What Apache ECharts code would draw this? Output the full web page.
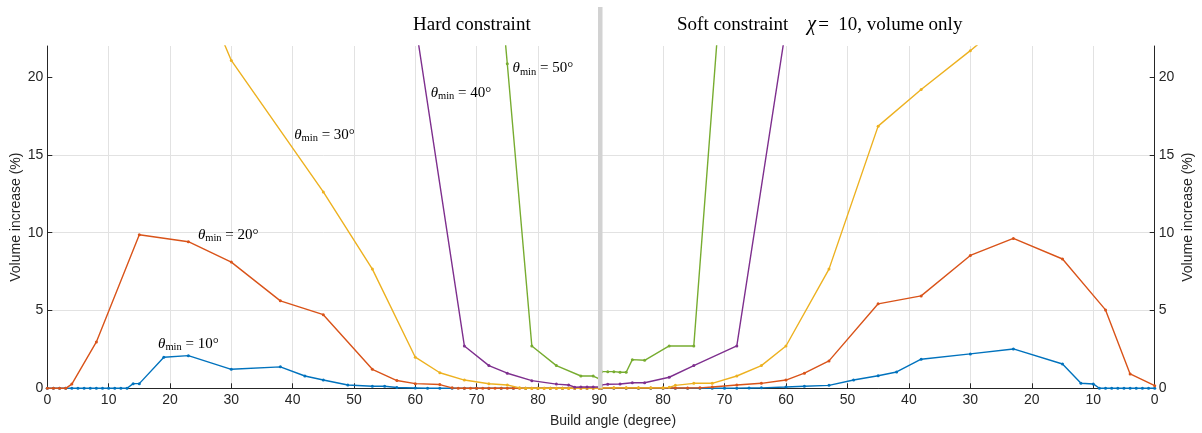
<!DOCTYPE html>
<html><head><meta charset="utf-8">
<script src="https://cdn.jsdelivr.net/npm/echarts@6/dist/echarts.min.js"></script>
<style>html,body{margin:0;padding:0;background:#fff}#c{width:1202px;height:433px}</style>
</head><body><div id="c"></div>
<script>
// ---------- data ----------
const xAxisTitle = 'Build angle (degree)';
const yAxisTitle = 'Volume increase (%)';
const yTickValues = [0, 5, 10, 15, 20];
const thetaNames = ['10°', '20°', '30°', '40°', '50°'];
const seriesColors = ['#0072BD', '#D95319', '#EDB120', '#7E2F8E', '#77AC30'];

// Hard constraint (left panel)
const hard10X = [0,1,2,3,4,5,6,7,8,9,10,11,12,13,14,15,19,23,30,38,42,45,49,53,55,57,60,62,64,66,68,70,72,74,76,78,80,82,84,86,88,90];
const hard10Y = [0,0,0,0,0,0,0,0,0,0,0,0,0,0,0.3,0.3,2.0,2.1,1.22,1.38,0.79,0.53,0.21,0.13,0.13,0.05,0.02,0,0,0,0,0,0,0,0,0,0,0,0,0,0,0];
const hard20X = [0,1,2,3,4,8,15,23,30,38,45,53,57,60,64,66,67,68,69,70,71,72,73,74,75,76,77,78,79,80,81,82,83,84,85,86,87,88,89,90];
const hard20Y = [0,0,0,0,0.27,2.98,9.87,9.42,8.11,5.62,4.73,1.22,0.5,0.3,0.24,0.03,0,0,0,0,0,0,0,0,0,0,0,0,0,0,0,0,0,0,0,0,0,0,0,0];
const hard30X = [23,30,45,53,60,64,68,72,75,77,78,79,80,81,82,83,84,85,86,87,88,89,90];
const hard30Y = [27.6,21.07,12.62,7.66,2.0,1.0,0.53,0.29,0.21,0.03,0,0,0,0,0,0,0,0,0,0,0,0,0];
const hard40X = [60,68,72,75,79,83,85,86,87,88,89,90];
const hard40Y = [23.5,2.72,1.46,0.97,0.49,0.27,0.21,0.07,0.08,0.08,0.08,0.08];
const hard50X = [72,75,79,83,87,89,90];
const hard50Y = [34,20.86,2.72,1.46,0.79,0.79,0.6];

// Soft constraint, chi = 10 (right panel)
const soft10X = [0,1,2,3,4,5,6,7,8,9,10,12,15,23,30,38,42,45,49,53,57,60,64,66,68,70,72,74,76,78,80,82,84,86,88,90];
const soft10Y = [0,0,0,0,0,0,0,0,0,0,0.28,0.32,1.56,2.53,2.21,1.87,1.05,0.81,0.53,0.19,0.13,0.08,0.03,0.02,0.01,0,0,0,0,0,0,0,0,0,0,0];
const soft20X = [0,4,8,15,23,30,38,45,53,57,60,64,68,72,74,76,78,80,82,84,86,88,90];
const soft20Y = [0.17,0.92,5.04,8.31,9.63,8.54,5.94,5.43,1.76,0.97,0.53,0.32,0.21,0.08,0.03,0.02,0.02,0.02,0.02,0.02,0.02,0.02,0.02];
const soft30X = [23,30,38,45,53,60,64,68,72,75,78,79,80,82,84,86,88,90];
const soft30Y = [24,21.7,19.2,16.85,7.66,2.72,1.46,0.79,0.32,0.32,0.19,0.06,0.03,0.03,0.03,0.03,0.03,0.03];
const soft40X = [60,68,75,79,83,85,87,89,90];
const soft40Y = [23.2,2.72,1.46,0.71,0.36,0.36,0.28,0.26,0.22];
const soft50X = [71,75,79,83,85,86,87,88,89,90];
const soft50Y = [23.5,2.72,2.72,1.8,1.84,1.03,1.03,1.07,1.07,1.07];

// label anchors (data units, left panel)
const thetaLabelAt = [[23, 2.85], [29.5, 9.84], [45.2, 16.3], [67.45, 19.0], [80.8, 20.55]];

// ---------- chart ----------
const chart = echarts.init(document.getElementById('c'), null, {renderer: 'canvas'});
const AX = '#262626', GRIDC = '#e2e2e2';
const SANS = '"Liberation Sans", Arial, Helvetica, sans-serif';
const SERIF = '"Liberation Serif", "Times New Roman", serif';

const annRich = {
  t: {fontFamily: SERIF, fontStyle: 'italic', fontSize: 15, color: '#000', lineHeight: 18},
  s: {fontFamily: SERIF, fontSize: 10.5, color: '#000', verticalAlign: 'bottom', lineHeight: 13},
  r: {fontFamily: SERIF, fontSize: 15, color: '#000', lineHeight: 18}
};

function mk(xs, ys, k, gi, withLabel) {
  const s = {
    type: 'line', xAxisIndex: gi, yAxisIndex: gi,
    data: xs.map((x, i) => [x, ys[i]]),
    symbol: 'circle', symbolSize: 3, showSymbol: true, showAllSymbol: true,
    lineStyle: {width: 1.4, color: seriesColors[k]},
    itemStyle: {color: seriesColors[k]},
    emphasis: {disabled: true}, silent: true, animation: false, clip: true, z: 2 + k
  };
  if (withLabel) {
    s.markPoint = {
      symbol: 'circle', symbolSize: 0, silent: true, animation: false,
      label: {show: true, position: 'inside', color: '#000',
        formatter: '{t|θ}{s|min}{r| = ' + thetaNames[k] + '}', rich: annRich},
      data: [{coord: thetaLabelAt[k]}]
    };
  }
  return s;
}

function xAx(gi, inverse) {
  return {
    type: 'value', gridIndex: gi, min: 0, max: 90, interval: 10, inverse: inverse,
    axisLine: {show: true, onZero: false, lineStyle: {color: AX, width: 1}},
    axisTick: {show: true, inside: true, length: 5, lineStyle: {color: AX}},
    axisLabel: {show: true, margin: 5, color: AX, fontSize: 14, fontFamily: SANS,
      showMinLabel: true, showMaxLabel: !inverse},
    splitLine: {show: true, lineStyle: {color: GRIDC, width: 1}}
  };
}
function yAx(gi, pos) {
  return {
    type: 'value', gridIndex: gi, min: 0, max: 22, interval: 5, position: pos,
    name: yAxisTitle, nameLocation: 'middle', nameRotate: 90, nameGap: pos === 'left' ? 24 : 26,
    nameTextStyle: {color: AX, fontSize: 14, fontFamily: SANS},
    axisLine: {show: true, onZero: false, lineStyle: {color: AX, width: 1}},
    axisTick: {show: true, inside: true, length: 5, lineStyle: {color: AX}, customValues: yTickValues},
    axisLabel: {show: true, margin: 4, color: AX, fontSize: 14, fontFamily: SANS, customValues: yTickValues},
    splitLine: {show: true, showMaxLine: false, lineStyle: {color: GRIDC, width: 1}}
  };
}

const option = {
  animation: false,
  backgroundColor: '#fff',
  grid: [
    {left: 47.3, top: 46, width: 552, height: 342.3, containLabel: false, outerBoundsMode: 'none'},
    {left: 601.6, top: 46, width: 553.1, height: 342.3, containLabel: false, outerBoundsMode: 'none'}
  ],
  xAxis: [xAx(0, false), xAx(1, true)],
  yAxis: [yAx(0, 'left'), yAx(1, 'right')],
  series: [
    mk(hard10X, hard10Y, 0, 0, true),
    mk(hard20X, hard20Y, 1, 0, true),
    mk(hard30X, hard30Y, 2, 0, true),
    mk(hard40X, hard40Y, 3, 0, true),
    mk(hard50X, hard50Y, 4, 0, true),
    mk(soft10X, soft10Y, 0, 1, false),
    mk(soft20X, soft20Y, 1, 1, false),
    mk(soft30X, soft30Y, 2, 1, false),
    mk(soft40X, soft40Y, 3, 1, false),
    mk(soft50X, soft50Y, 4, 1, false)
  ],
  graphic: [
    {type: 'rect', z: 100, shape: {x: 598, y: 7, width: 4.5, height: 381.3}, style: {fill: '#d2d2d2'}, silent: true},
    {type: 'text', z: 100, x: 413, y: 25, silent: true,
      style: {text: 'Hard constraint', fontSize: 19, fontFamily: SERIF, fill: '#000', align: 'left', verticalAlign: 'middle'}},
    {type: 'text', z: 100, x: 677, y: 25, silent: true,
      style: {text: 'Soft constraint    {c|χ}=  10, volume only', fontSize: 19, fontFamily: SERIF, fill: '#000',
        align: 'left', verticalAlign: 'middle',
        rich: {c: {fontSize: 20, fontFamily: SERIF, fontStyle: 'italic', fill: '#000', padding: [0, 2, 0, 0]}}}},
    {type: 'text', z: 100, x: 613, y: 421, silent: true,
      style: {text: xAxisTitle, fontSize: 14, fontFamily: SANS, fill: AX, align: 'center', verticalAlign: 'middle'}}
  ]
};
chart.setOption(option);
</script>
</body></html>
